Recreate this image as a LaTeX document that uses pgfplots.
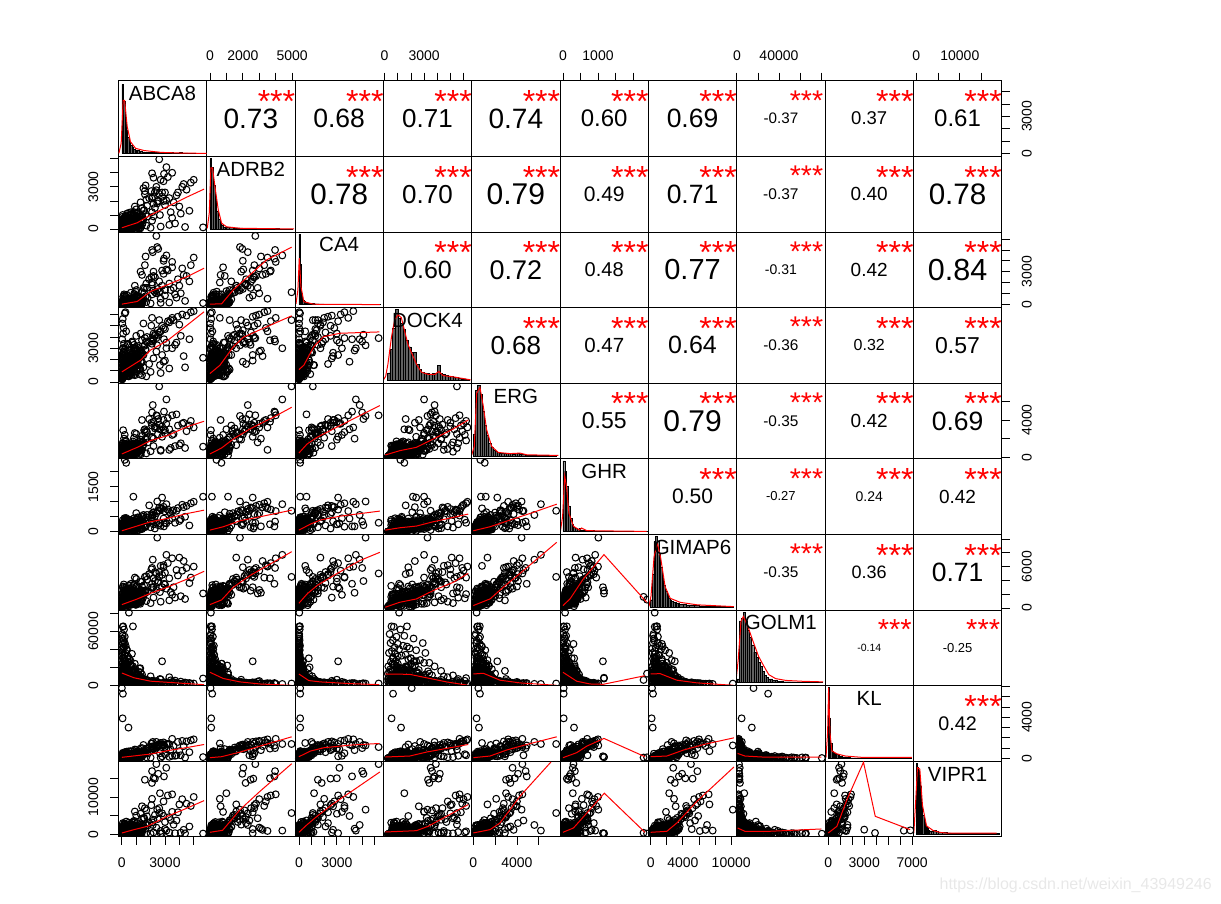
\documentclass[border=0pt]{standalone}
\usepackage{fontspec}
\setmainfont{Liberation Sans}
\usepackage{pgfplots}
\usepackage{pgfplotstable}
\pgfplotsset{compat=1.18}
\pgfdeclareplotmark{hc}{\pgfpathmoveto{\pgfqpoint{3.4pt}{0pt}}\pgfpathcurveto{\pgfqpoint{3.4pt}{4.53pt}}{\pgfqpoint{-3.4pt}{4.53pt}}{\pgfqpoint{-3.4pt}{0pt}}\pgfpathcurveto{\pgfqpoint{-3.4pt}{-4.53pt}}{\pgfqpoint{3.4pt}{-4.53pt}}{\pgfqpoint{3.4pt}{0pt}}\pgfusepathqstroke}
\pgfplotstableread{
A B C D E G I O K V
60 90 30 700 350 30 500 65000 60 200
90 40 40 520 400 20 700 65500 40 150
490 60 30 1100 300 60 500 80800 30 160
770 120 80 1700 600 110 800 65500 70 300
150 120 60 1200 500 60 800 62000 90 300
30 60 20 380 220 15 350 57000 30 120
200 180 30 900 620 40 900 54000 70 240
110 70 50 620 300 25 430 50000 30 80
50 30 15 450 260 10 280 47000 20 60
260 240 80 1400 720 80 1100 44000 120 350
130 90 25 760 410 35 640 42000 60 180
340 200 40 1100 560 70 1300 40000 110 420
70 120 30 550 340 20 520 38000 40 140
40 50 10 330 180 15 240 36000 25 90
180 260 60 1600 800 55 950 34000 130 500
420 150 70 1000 470 90 760 32000 80 260
95 60 20 640 280 30 470 31000 55 110
520 320 90 1800 900 120 1400 29000 170 600
230 130 45 840 450 45 690 27000 70 230
75 170 35 480 310 25 560 26000 50 170
310 380 110 2000 1000 100 1500 24000 190 550
145 85 30 700 380 40 620 23000 65 150
640 430 140 2300 1150 160 1800 22000 210 800
20 25 8 280 130 8 200 21000 15 40
85 210 50 950 520 50 1000 20000 90 350
380 110 35 1250 430 75 840 19000 75 300
160 300 75 1500 760 65 1250 18000 140 480
55 45 15 410 210 18 300 17500 30 70
720 520 180 2600 1280 190 2100 17000 260 1100
270 160 40 1050 490 60 730 16000 85 260
115 75 25 600 270 28 450 15000 45 130
35 110 20 350 240 12 380 14500 35 100
450 350 100 1700 880 110 1500 14000 170 620
205 240 55 900 600 48 1050 13500 110 420
16 15 5 240 90 6 150 13000 10 25
590 410 120 2100 1020 140 1700 12500 200 780
125 65 22 530 250 22 420 12000 40 110
330 190 60 1300 650 80 1150 11500 120 400
80 140 30 780 430 35 720 11000 70 240
960 600 260 3000 1450 230 2400 11000 320 1500
240 280 70 1150 700 52 1200 10500 130 520
45 35 12 420 170 14 260 10000 22 60
550 460 150 1900 1100 150 1900 9800 230 950
170 100 38 680 360 42 580 9500 55 190
100 220 45 860 480 30 880 9200 100 330
390 130 50 1350 540 85 950 9000 95 320
25 20 10 300 120 9 190 8800 12 35
680 380 200 2400 1200 170 2000 8500 240 1000
140 170 35 720 400 38 680 8200 75 260
290 300 85 1450 830 70 1350 8000 150 560
65 55 18 500 200 20 330 7800 30 90
850 540 240 2700 1350 210 2300 7500 290 1350
215 120 42 980 440 58 760 7300 80 280
10 10 4 260 70 4 120 7000 8 20
470 340 130 1600 950 125 1600 6800 190 700
120 190 40 800 510 32 900 6500 100 300
360 260 70 1200 680 90 1200 6200 125 460
55 80 14 440 230 16 360 6000 40 120
760 480 220 2500 1250 180 2150 5800 270 1200
190 90 32 660 330 46 540 5500 50 170
30 30 8 310 110 10 210 5200 15 50
430 230 90 1500 780 100 1300 5000 140 520
90 150 28 590 370 24 600 4800 70 210
600 390 160 2050 1080 135 1750 4500 210 880
150 70 24 740 290 36 500 4200 45 140
260 210 55 1000 620 66 1080 3800 105 380
20 18 6 270 85 7 140 3500 10 30
70 40 12 400 160 12 250 3200 20 55
340 170 60 1150 550 72 980 3000 90 300
100 110 20 570 300 18 470 2600 50 150
520 280 110 1750 860 115 1450 2200 160 640
40 60 9 360 140 11 230 1800 25 70
850 90 60 1500 300 180 600 14000 300 900
1200 400 250 700 900 60 1800 9000 60 1700
300 900 150 2200 350 300 2600 6000 500 300
620 1050 30 900 1400 110 700 22000 120 2200
1000 200 600 1100 1100 420 1500 5000 640 1400
150 700 900 2600 750 250 2900 4000 380 2700
1400 300 50 1800 1600 90 1100 12000 210 500
480 800 400 500 1250 350 3200 7000 90 3100
90 550 700 1300 200 150 400 18000 450 1000
1100 1150 100 2400 650 480 2200 3500 700 600
40 60 20 2200 500 60 400 52000 100 300
200 30 10 2900 300 120 900 47000 60 200
100 150 40 1700 800 30 1500 43000 180 500
350 90 60 2400 1100 200 1800 39000 90 900
60 20 15 1500 150 90 300 55000 40 100
260 200 5 3100 700 150 2300 36000 220 1200
20 100 30 1300 1000 40 1100 33000 150 400
500 40 25 2000 400 250 600 30000 70 700
150 250 80 2700 1300 100 2600 28000 310 1500
80 70 50 1000 600 300 1400 46000 50 300
30 45 12 1900 250 70 200 41000 30 150
420 180 35 3400 900 180 2000 25000 130 800
310 300 120 2100 1200 330 1700 21000 260 1300
700 60 20 800 250 50 500 35000 30 90
120 500 200 1400 700 220 1900 19000 340 400
560 150 300 600 1050 70 1000 8000 110 1900
240 650 60 1800 450 140 2400 11000 420 1100
800 350 500 1200 1500 280 800 4500 170 2400
50 400 90 2300 900 380 3000 5500 520 700
1300 120 20 1000 700 200 1300 6500 90 300
670 750 350 1600 300 60 1700 15000 260 1600
180 280 550 800 1150 450 2100 9000 590 2900
950 500 130 2800 1000 110 600 7500 80 600
410 950 250 1100 1350 320 2700 3200 350 2000
1050 240 75 2000 550 240 900 13000 180 500
90 600 420 3000 800 170 3100 10000 460 1500
760 330 180 1400 1700 90 1200 5000 280 3300
220 870 40 500 600 400 1600 16000 140 800
1450 450 320 2500 1200 350 2500 4000 550 1300
340 180 850 1700 400 130 2200 20000 650 2500
600 1000 70 900 950 260 800 6000 70 400
130 350 480 2100 1300 190 3400 8500 300 1800
900 700 210 600 500 80 1400 24000 210 1100
280 520 110 1300 1450 460 1900 12000 500 2200
1150 90 640 3200 850 150 700 3800 120 900
510 770 30 1900 350 310 2800 17000 390 600
70 240 370 700 1050 210 1000 5800 240 3000
1350 600 160 2300 1550 120 2300 9500 600 1700
190 430 720 1500 650 360 1500 2900 160 2600
840 140 280 2900 1100 290 3300 7000 440 1000
360 1100 90 1000 200 40 600 14000 50 200
1250 320 45 1200 1400 410 1800 3000 320 400
620 220 1050 2600 950 100 2500 10000 700 2800
100 480 190 800 1250 240 1100 6000 90 1300
1000 900 560 1800 750 340 3100 2400 530 2000
450 60 310 2200 450 180 400 26000 140 700
730 830 15 3500 1350 60 2000 4500 270 2500
270 160 680 1000 1050 430 2900 8000 610 1200
1100 380 130 1600 600 280 1300 12500 100 300
50 1000 240 2400 1500 150 2200 3600 380 1600
880 560 900 700 850 50 900 7000 480 3200
390 300 60 3300 1200 390 2700 15500 230 800
1500 700 430 1300 1600 220 1600 5200 660 2300
160 130 780 2000 350 320 700 30000 120 500
640 1200 200 1100 1100 120 3500 2800 420 1400
1200 260 100 2700 700 470 2000 6600 200 900
300 750 350 900 1700 80 2600 18000 310 3400
950 420 1150 1500 500 260 1200 4000 570 600
30 860 80 2100 1000 180 800 9000 80 1900
720 200 520 3600 1300 370 3000 11000 350 2700
1400 950 30 600 800 140 1900 3400 150 1000
220 610 260 1700 1450 50 1400 21000 510 2100
1050 80 700 2500 400 300 2400 8000 260 300
480 1150 150 1200 1200 410 3300 2500 680 1500
650 300 45 1250 750 140 900 16000 70 650
210 80 130 850 220 60 1500 11000 150 1200
1020 620 90 1900 1000 210 1200 8500 320 450
90 420 20 600 560 90 700 6500 30 1700
780 170 220 2200 430 300 2100 4000 240 850
330 720 60 1000 1200 40 400 24000 110 300
1150 230 310 1500 880 170 1650 9500 410 2100
45 130 170 2500 300 110 2000 13000 190 560
560 560 10 700 1050 260 1100 5200 60 1500
250 850 100 1800 640 70 2300 7800 280 250
1280 50 35 1150 480 350 600 19000 130 1050
700 460 270 2000 1350 130 1850 3400 450 1800
140 320 380 1300 170 190 1250 10500 90 700
920 750 55 2400 820 30 500 15000 220 2300
400 40 140 550 1150 280 1950 6200 350 400
1060 530 240 1700 610 220 2200 4600 40 1350
20 660 75 950 1300 150 800 12500 170 2000
610 200 330 2250 370 80 1400 27000 300 120
830 880 25 1450 1100 320 2350 2900 500 950
300 110 190 800 720 50 350 8900 80 1600
1200 410 120 2350 250 240 1000 5600 260 2400
170 780 40 1650 940 120 1750 20000 380 640
490 250 260 1050 1400 340 2050 3700 120 1150
980 20 70 2100 540 180 450 11500 210 280
75 590 350 600 790 20 1300 7200 430 1900
740 340 15 1350 1250 290 2250 16500 50 800
1320 700 160 1850 330 100 950 4300 320 1450
260 160 290 2450 1050 210 1600 9200 140 2200
590 480 85 750 680 330 600 23000 240 550
1100 840 200 1550 1180 60 2150 3100 470 1250
35 70 30 1950 430 160 1150 5900 20 350
870 370 110 900 1320 250 1800 13500 390 2050
440 640 340 2300 200 110 2400 6900 100 1000
1230 140 50 1200 910 300 750 18500 280 1700
120 540 220 1750 1030 40 1450 4900 180 480
680 260 130 650 570 200 2000 10000 440 2350
1010 790 65 2150 1280 130 650 3300 80 750
380 30 250 1400 410 270 1350 8000 230 1550
1300 600 175 2500 730 340 2300 14500 360 200
210 400 95 1050 1120 85 1050 5300 120 1200
770 190 310 1600 280 220 1700 21000 410 2150
55 730 40 2050 860 155 520 7000 60 650
1130 320 205 1250 1220 310 1900 3900 300 1800
520 500 125 800 640 75 1250 12000 200 950
160 90 285 2350 990 240 2200 6000 340 2450
860 680 60 1500 350 125 850 17000 95 1350
120 30 20 4800 900 180 900 9000 100 300
60 80 40 5600 1500 250 1500 7000 250 600
200 40 90 6100 2400 400 1400 5000 400 500
30 20 15 5200 600 140 700 11000 120 250
250 120 30 6200 1800 300 2000 8000 300 800
90 60 10 4300 2900 120 1100 16000 200 350
20 30 25 3800 1100 230 800 21000 80 200
150 200 60 3400 2000 350 1700 13000 220 700
70 20 12 3000 700 90 600 25000 60 150
300 150 100 4500 1300 420 1300 10000 180 450
1300 950 650 2800 1700 380 2600 9000 520 2600
1050 1100 800 3100 1500 300 2900 12000 600 3000
1500 1300 450 2400 1350 500 1900 7000 410 2000
1150 700 350 2000 1050 260 1600 15000 350 1300
850 1200 950 3300 2100 450 3400 6000 700 3600
1800 900 600 3500 1600 410 2400 5500 460 2400
950 620 280 1800 900 200 1300 18000 280 900
1400 1500 1100 3700 2300 520 3800 4800 640 4200
1200 850 520 2600 1250 340 2100 10000 480 1800
1650 1050 720 2900 1900 360 2500 6500 560 2700
1000 1400 1300 4100 2500 620 4200 4200 820 5000
2100 1200 900 3900 2200 480 3500 5000 780 3200
800 1000 420 2300 1400 290 1900 9000 380 1700
1750 1650 1500 4000 2700 560 4100 3500 900 4800
1350 480 300 1700 800 240 1200 8000 240 800
2200 1800 1250 4300 2000 640 3000 3800 1000 3900
1100 300 180 2200 1150 330 1400 7500 300 600
1550 1350 1000 3200 2900 430 3300 4500 720 4400
2500 2000 1400 4600 2450 700 3700 3200 1150 4100
900 1600 1700 3000 2600 350 4400 3600 860 6100
2300 1500 1100 4200 3100 520 3900 2800 1050 5200
1700 2100 1900 3600 2800 480 4600 2600 950 6400
2800 2300 1700 5000 3300 760 4800 2500 1250 5600
3000 1700 1300 4700 2600 680 3400 3000 1120 3300
2600 2500 2100 4400 3500 810 5200 2300 1300 7000
3300 2200 1900 5300 3000 660 4300 2700 1380 4600
3600 1900 1500 5500 2500 720 3000 3600 1200 2600
2050 2700 2500 5000 3700 590 5600 2200 1450 7800
2900 3400 2800 4800 4000 830 6200 2000 1550 8800
3900 2600 2300 5800 3400 790 4700 2100 1600 5900
4200 3000 3300 6000 3600 900 5400 1900 1700 9400
3200 3700 3100 5400 4200 740 6500 1800 1400 10400
4500 2800 2600 5900 2800 860 5800 2400 1650 8200
4800 3300 3600 6200 3900 950 4400 1700 1750 7600
3500 4000 3900 5700 4500 690 7200 1500 1900 10700
5000 3500 4300 6300 3200 1000 6000 2000 1850 10000
2650 1000 1200 1500 3000 280 2300 7000 500 11000
1400 650 2700 2600 4000 350 3100 3800 1000 7500
1650 3100 4400 2800 2000 180 2200 2400 800 1500
2150 2300 4800 3800 5600 560 7000 1600 1600 2500
3100 4400 4500 3000 6200 920 7700 1500 1400 1000
4100 1100 1000 4100 1500 420 1700 4100 300 450
3700 400 900 3300 1200 300 1500 5200 250 300
4400 150 300 1300 1000 500 1300 3100 80 250
3300 300 150 1200 800 380 1100 9000 150 500
2700 180 120 800 700 200 900 6500 60 200
2000 90 70 900 650 150 700 10000 70 150
1700 250 200 500 420 220 1000 6000 110 300
2200 900 2600 2100 1200 650 1500 5000 900 500
3000 2600 800 1900 2900 300 5100 3300 400 1400
1500 2900 1500 5200 1600 560 2100 4100 1300 4300
4700 1300 2100 3800 3400 210 3600 2600 600 2100
2700 3500 500 4500 800 780 6100 2300 1500 900
3500 800 3400 3000 2400 450 1900 3800 250 6000
1900 2200 2300 1600 4100 880 4900 2900 1100 3000
4000 1600 1700 5100 1300 360 7300 2000 700 8000
2400 3000 1000 2700 3200 620 2600 4700 1600 1800
1300 1900 3000 4300 1900 250 3800 6200 950 5500
3800 2400 600 3500 4600 700 5500 2500 300 3700
2100 600 2000 5700 2100 540 2900 3400 1450 9500
4300 3200 2700 2300 3700 820 6800 1800 1200 1200
1600 2700 3600 3900 2700 170 4500 3000 500 7000
3400 1200 1300 5500 1000 600 2300 5500 850 3800
2900 2000 4000 1800 3000 440 5900 2100 1350 4900
2400 2760 6300 3900 4500 300 5000 2000 1100 18800
2100 3960 5000 3600 4800 340 5800 1900 1000 16900
2530 1970 5100 4200 4100 220 3900 2300 1300 16200
3090 2030 3200 3500 3600 280 2800 2700 900 17800
2930 3920 4200 3800 4900 180 3500 2500 1250 15500
2300 2640 2500 4100 3300 110 5200 2100 800 14900
2090 2170 1800 3400 3400 380 3000 2900 1150 13750
1600 2470 1500 3300 3000 150 2500 2400 700 14600
2200 3650 3000 3700 3800 250 4300 2200 950 15000
2460 1825 5270 3260 4430 1010 10200 1900 1260 6600
5650 120 100 2150 1140 1170 2100 7600 120 200
2600 4960 1100 5500 7600 700 4500 2000 1400 5700
200 400 100 1200 650 2400 1200 13000 100 200
300 700 100 1500 1050 2300 1600 6000 80 400
2800 2600 3100 2400 2200 1140 3000 26700 200 300
800 1100 600 3000 700 1170 2500 8400 130 250
0 40 100 2060 460 20 170 15800 6850 1070
70 140 100 640 610 20 290 29700 6300 980
50 80 100 530 300 20 120 4500 3900 360
460 80 100 1250 520 315 250 14200 3000 1250
}\data
\pgfplotsset{
 xA/.style={xmin=-250,xmax=5900},yA/.style={ymin=-250,ymax=5900},
 xB/.style={xmin=-200,xmax=5170},yB/.style={ymin=-200,ymax=5170},
 xC/.style={xmin=-310,xmax=6670},yC/.style={ymin=-310,ymax=6670},
 xD/.style={xmin=-100,xmax=6620},yD/.style={ymin=-100,ymax=6620},
 xE/.style={xmin=-150,xmax=7950},yE/.style={ymin=-150,ymax=7950},
 xG/.style={xmin=-85,xmax=2437},yG/.style={ymin=-85,ymax=2437},
 xI/.style={xmin=-290,xmax=10680},yI/.style={ymin=-290,ymax=10680},
 xO/.style={xmin=-200,xmax=83800},yO/.style={ymin=-200,ymax=83800},
 xK/.style={xmin=-270,xmax=7100},yK/.style={ymin=-270,ymax=7100},
 xV/.style={xmin=-640,xmax=19590},yV/.style={ymin=-640,ymax=19590},
 lowx/.style={xtick pos=lower,xticklabel pos=lower,xticklabel style={yshift=-18pt}},
 topx/.style={xtick pos=upper,xticklabel pos=upper,xticklabel style={yshift=17pt}},
 lefty/.style={ytick pos=lower,yticklabel pos=lower,yticklabel style={xshift=-17pt,rotate=90}},
 righty/.style={ytick pos=upper,yticklabel pos=upper,yticklabel style={xshift=17pt,rotate=90}},
 cell/.style={scale only axis,width=88.34pt,height=75.6pt,anchor=north west,
  axis line style={line width=.8pt},tick style={black,line width=.8pt},
  tick align=outside,major tick length=8pt,scaled ticks=false,
  xtick=\empty,ytick=\empty,clip marker paths=true,
  tick label style={font=\fontsize{14}{14}\selectfont},
  xticklabel style={inner sep=0pt,anchor=center},
  yticklabel style={inner sep=0pt,anchor=center}},
 bA/.style={lowx,xtick={0,1000,...,5000},xticklabels={0,,,3000,,}},
 bC/.style={lowx,xtick={0,1000,...,6000},xticklabels={0,,,3000,,,}},
 bE/.style={lowx,xtick={0,2000,4000,6000},xticklabels={0,,4000,}},
 bI/.style={lowx,xtick={0,2000,...,10000},xticklabels={0,,4000,,,10000}},
 bK/.style={lowx,xtick={0,1000,...,7000},xticklabels={0,,,3000,,,,7000}},
 tB/.style={topx,xtick={0,1000,...,5000},xticklabels={0,,2000,,,5000}},
 tD/.style={topx,xtick={0,1000,...,6000},xticklabels={0,,,3000,,,}},
 tG/.style={topx,xtick={0,500,...,2000},xticklabels={0,,1000,,}},
 tO/.style={topx,xtick={0,20000,...,80000},xticklabels={0,,40000,,}},
 tV/.style={topx,xtick={0,5000,10000,15000},xticklabels={0,,10000,}},
 lB/.style={lefty,ytick={0,1000,...,5000},yticklabels={0,,,3000,,}},
 lD/.style={lefty,ytick={0,1000,...,6000},yticklabels={0,,,3000,,,}},
 lG/.style={lefty,ytick={0,500,...,2000},yticklabels={0,,,1500,}},
 lO/.style={lefty,ytick={0,20000,...,80000},yticklabels={0,,,60000,}},
 lV/.style={lefty,ytick={0,5000,10000,15000},yticklabels={0,,10000,}},
 rA/.style={righty,ytick={0,1000,...,5000},yticklabels={0,,,3000,,}},
 rC/.style={righty,ytick={0,1000,...,6000},yticklabels={0,,,3000,,,}},
 rE/.style={righty,ytick={0,2000,4000,6000},yticklabels={0,,4000,}},
 rI/.style={righty,ytick={0,2000,...,10000},yticklabels={0,,,6000,,}},
 rK/.style={righty,ytick={0,1000,...,7000},yticklabels={0,,,,4000,,,}},
}
\newcommand\setpos[2]{\pgfmathsetmacro\px{118.3+(#1-1)*88.34}\pgfmathsetmacro\py{-80.7-(#2-1)*75.6}}
\newcommand\panel[6]{\setpos{#1}{#2}
\begin{axis}[cell,at={(\px pt,\py pt)},x#3,y#4,#5]
\addplot[only marks,mark=hc,mark options={line width=1.05pt,black}] table[x=#3,y=#4]{\data};
\addplot[red,line width=1pt] coordinates {#6};
\end{axis}}
\newcommand\diag[5]{\setpos{#1}{#1}
\begin{axis}[cell,at={(\px pt,\py pt)},x#2,ymin=-0.04,ymax=1]
\addplot[ybar interval,fill=black!62,draw=black,line width=.45pt] coordinates {#4};
\addplot[red,line width=1pt] coordinates {#5};
\node[font=\fontsize{20.5}{20.5}\selectfont,inner sep=0pt] at (rel axis cs:0.5,0.83) {#3};
\end{axis}}
\newcommand\cor[5]{\setpos{#1}{#2}
\pgfmathsetmacro\sb{10+.68*#5}
\draw[line width=.8pt] (\px pt,\py pt) rectangle ++(88.34pt,-75.6pt);
\node[inner sep=0pt,font=\fontsize{#4}{#4}\selectfont] at ([shift={(44.2pt,-37.8pt)}]\px pt,\py pt) {#3};
\node[inner sep=0pt,anchor=base,red,font=\fontsize{#5}{#5}\selectfont] at ([shift={(69.8pt,-\sb pt)}]\px pt,\py pt) {***};}
\begin{document}
\begin{tikzpicture}
\path[use as bounding box] (0,0) rectangle (1221pt,-903pt);
\cor{2}{1}{0.73}{28}{32}\cor{3}{1}{0.68}{26.5}{32}\cor{4}{1}{0.71}{26}{32}\cor{5}{1}{0.74}{28}{32}\cor{6}{1}{0.60}{24}{32}\cor{7}{1}{0.69}{26.5}{32}\cor{8}{1}{-0.37}{15.2}{28.5}\cor{9}{1}{0.37}{18.5}{32}\cor{10}{1}{0.61}{24}{32}
\cor{3}{2}{0.78}{29.6}{32}\cor{4}{2}{0.70}{26}{32}\cor{5}{2}{0.79}{30}{32}\cor{6}{2}{0.49}{21}{32}\cor{7}{2}{0.71}{26.5}{32}\cor{8}{2}{-0.37}{15.5}{28.5}\cor{9}{2}{0.40}{19}{32}\cor{10}{2}{0.78}{29.6}{32}
\cor{4}{3}{0.60}{25}{32}\cor{5}{3}{0.72}{27}{32}\cor{6}{3}{0.48}{20}{32}\cor{7}{3}{0.77}{29}{32}\cor{8}{3}{-0.31}{14}{28.5}\cor{9}{3}{0.42}{19}{32}\cor{10}{3}{0.84}{30.5}{32}
\cor{5}{4}{0.68}{26}{32}\cor{6}{4}{0.47}{20.5}{32}\cor{7}{4}{0.64}{25}{32}\cor{8}{4}{-0.36}{15.4}{28.5}\cor{9}{4}{0.32}{16}{32}\cor{10}{4}{0.57}{23}{32}
\cor{6}{5}{0.55}{23}{32}\cor{7}{5}{0.79}{30}{32}\cor{8}{5}{-0.35}{15.4}{28.5}\cor{9}{5}{0.42}{19}{32}\cor{10}{5}{0.69}{26.5}{32}
\cor{7}{6}{0.50}{21}{32}\cor{8}{6}{-0.27}{13}{28.5}\cor{9}{6}{0.24}{14}{32}\cor{10}{6}{0.42}{19}{32}
\cor{8}{7}{-0.35}{15.4}{28.5}\cor{9}{7}{0.36}{18}{32}\cor{10}{7}{0.71}{26.5}{32}
\cor{9}{8}{-0.14}{10.5}{29}\cor{10}{8}{-0.25}{13}{29}
\cor{10}{9}{0.42}{19.7}{32}
\begin{axis}[cell,at={(206.64pt,-80.7pt)},xB,yA,tB]\end{axis}
\begin{axis}[cell,at={(383.32pt,-80.7pt)},xD,yA,tD]\end{axis}
\begin{axis}[cell,at={(560pt,-80.7pt)},xG,yA,tG]\end{axis}
\begin{axis}[cell,at={(736.68pt,-80.7pt)},xO,yA,tO]\end{axis}
\begin{axis}[cell,at={(913.36pt,-80.7pt)},xV,yA,tV,rA]\end{axis}
\begin{axis}[cell,at={(913.36pt,-231.9pt)},xV,yC,rC]\end{axis}
\begin{axis}[cell,at={(913.36pt,-383.1pt)},xV,yE,rE]\end{axis}
\begin{axis}[cell,at={(913.36pt,-534.3pt)},xV,yI,rI]\end{axis}
\begin{axis}[cell,at={(913.36pt,-685.5pt)},xV,yK,rK]\end{axis}
\diag{1}{A}{ABCA8}{(0,.95)(100,.72)(200,.48)(300,.32)(400,.22)(500,.15)(600,.11)(700,.08)(800,.06)(900,.05)(1000,.05)(1100,.04)(1200,.03)(1300,.03)(1400,.02)(1500,.02)(1600,.015)(1700,.015)(1800,.01)(1900,.01)(2000,.015)(2200,.015)(2400,.02)(2600,.012)(2800,.01)(3000,.01)(3200,.006)(3400,.01)(3600,.006)(3800,.006)(4000,.01)(4200,.006)(4400,.006)(4600,.003)(4800,.003)(5000,.003)(5600,.003)(5700,0)}{(-210,0)(-50,.14)(90,.73)(190,.73)(370,.37)(600,.16)(950,.07)(1530,.04)(2700,.014)(4090,.005)(5900,0)}
\diag{2}{B}{ADRB2}{(0,.97)(100,.85)(200,.6)(300,.42)(400,.25)(500,.14)(600,.08)(700,.05)(800,.03)(900,.02)(1000,.02)(1200,.02)(1400,.015)(1600,.015)(1800,.015)(2000,.012)(2200,.012)(2400,.01)(2600,.012)(2800,.01)(3000,.006)(3200,.006)(3400,.006)(3600,.006)(3800,.004)(4000,.004)(4200,.003)(4500,.003)(4960,.003)(5000,0)}{(-160,.01)(-40,.22)(60,.84)(160,.84)(300,.59)(510,.26)(710,.08)(1010,.03)(1830,.01)(5110,0)}
\diag{3}{C}{CA4}{(0,.97)(100,.55)(200,.15)(300,.06)(400,.04)(500,.03)(600,.025)(700,.02)(800,.02)(1000,.015)(1200,.012)(1400,.012)(1600,.01)(1800,.01)(2000,.008)(2400,.008)(2800,.006)(3200,.006)(3600,.004)(4000,.004)(4400,.003)(5000,.003)(6400,0)}{(-230,.01)(-80,.2)(30,.64)(160,.25)(390,.04)(1170,.005)(6400,0)}
\diag{4}{D}{DOCK4}{(200,.1)(400,.42)(600,.72)(800,.97)(1000,.85)(1200,.78)(1400,.7)(1600,.55)(1800,.46)(2000,.38)(2200,.38)(2400,.22)(2600,.15)(2800,.11)(3000,.1)(3200,.09)(3400,.08)(3600,.09)(3800,.09)(4000,.2)(4200,.09)(4400,.08)(4600,.07)(4800,.06)(5000,.05)(5200,.04)(5400,.04)(5600,.03)(5800,.02)(6000,.02)(6200,.01)(6400,0)}{(-100,0)(80,.055)(250,.22)(510,.58)(760,.83)(1020,.9)(1270,.86)(1530,.67)(1780,.49)(2160,.33)(2420,.22)(2800,.11)(3310,.08)(3820,.08)(4120,.12)(4450,.064)(5220,.046)(6540,.005)}
\diag{5}{E}{ERG}{(0,.3)(200,.9)(400,.97)(600,.85)(800,.62)(1000,.42)(1200,.28)(1400,.17)(1600,.12)(1800,.08)(2000,.06)(2200,.05)(2400,.04)(2600,.03)(2800,.03)(3000,.03)(3200,.03)(3400,.03)(3600,.02)(3800,.03)(4000,.03)(4200,.02)(4400,.015)(4800,.01)(5200,.01)(5600,.006)(6000,.006)(6400,.004)(7000,.004)(7600,0)}{(-150,.01)(90,.13)(310,.86)(610,.94)(920,.68)(1220,.36)(1680,.13)(2290,.046)(3360,.03)(4280,.037)(4890,.014)(7800,.005)}
\diag{6}{G}{GHR}{(0,.97)(50,.83)(100,.62)(150,.35)(200,.18)(250,.1)(300,.06)(350,.04)(400,.03)(450,.04)(500,.02)(550,.02)(600,.015)(700,.012)(800,.01)(900,.008)(1000,.008)(1100,.008)(1200,.004)(2300,.004)(2400,0)}{(-70,.01)(-10,.21)(50,.76)(100,.62)(170,.25)(300,.07)(470,.02)(530,.046)(680,.01)(2390,0)}
\diag{7}{I}{GIMAP6}{(0,.1)(200,.45)(400,.9)(600,.97)(800,.9)(1000,.72)(1200,.55)(1400,.42)(1600,.3)(1800,.22)(2000,.18)(2200,.12)(2400,.1)(2600,.08)(2800,.07)(3000,.06)(3200,.05)(3400,.05)(3600,.04)(4000,.04)(4400,.03)(4800,.025)(5400,.02)(6000,.015)(7000,.01)(8000,.008)(9000,.004)(10300,0)}{(-210,.01)(40,.15)(420,.69)(830,.88)(1250,.67)(1790,.28)(2420,.12)(3670,.064)(5750,.03)(10330,.005)}
\diag{8}{O}{GOLM1}{(0,.05)(2000,.85)(4000,.88)(6000,.97)(8000,.85)(10000,.72)(12000,.62)(14000,.52)(16000,.42)(18000,.35)(20000,.28)(22000,.22)(24000,.15)(26000,.1)(28000,.07)(30000,.05)(32000,.05)(34000,.03)(36000,.03)(38000,.02)(40000,.02)(44000,.012)(48000,.012)(52000,.01)(56000,.008)(60000,.008)(66000,.004)(80000,.003)(81000,0)}{(-970,.005)(1290,.32)(3870,.84)(6130,.91)(10970,.75)(15800,.55)(20650,.36)(25500,.23)(30300,.11)(36800,.055)(46500,.03)(62600,.018)(81900,.01)}
\diag{9}{K}{KL}{(0,.97)(100,.55)(200,.2)(300,.1)(400,.08)(500,.07)(600,.05)(700,.05)(800,.04)(900,.03)(1000,.03)(1100,.03)(1200,.02)(1300,.02)(1400,.015)(1600,.01)(1800,.006)(2000,.004)(3000,.004)(4000,.004)(6300,.004)(6900,0)}{(-190,.01)(-55,.35)(30,.97)(140,.35)(300,.1)(720,.06)(1420,.03)(2940,.01)(6970,.01)}
\diag{10}{V}{VIPR1}{(0,.97)(250,.92)(500,.88)(750,.8)(1000,.65)(1250,.4)(1500,.25)(1750,.17)(2000,.12)(2250,.1)(2500,.07)(2750,.05)(3000,.04)(3500,.04)(4000,.05)(4500,.03)(5000,.02)(6000,.015)(7000,.012)(8000,.01)(9000,.008)(10000,.008)(11000,.006)(14000,.006)(16000,.006)(18000,.006)(19000,0)}{(-530,.01)(-80,.48)(300,.91)(840,.89)(1450,.39)(2370,.11)(3890,.045)(5420,.02)(6950,.01)(18400,.01)}
\panel{1}{2}{A}{B}{lB}{(0,95)(1070,450)(2000,1000)(3160,1590)(4560,2290)(5720,2840)}
\panel{1}{3}{A}{C}{}{(0,0)(1070,246)(2000,1170)(3160,1785)(4560,2550)(5720,3320)}
\panel{1}{4}{A}{D}{lD}{(0,900)(1300,1940)(2000,2840)(3160,3670)(4560,5070)(5720,6240)}
\panel{1}{5}{A}{E}{}{(0,360)(1070,1070)(2000,1790)(3160,2320)(4560,3290)(5720,3860)}
\panel{1}{6}{A}{G}{lG}{(0,33)(2000,333)(3160,444)(4560,610)(5720,720)}
\panel{1}{7}{A}{I}{}{(0,480)(1070,1300)(2000,2130)(3160,3000)(4560,4200)(5720,5310)}
\panel{1}{8}{A}{O}{lO}{(0,13700)(840,8400)(2000,4600)(3160,3400)(4560,1900)(5720,760)}
\panel{1}{9}{A}{K}{}{(0,100)(2000,420)(3160,740)(4560,1060)(5720,1350)}
\panel{1}{10}{A}{V}{bA,lV}{(0,360)(840,1250)(1770,2140)(3160,4820)(4560,7050)(5720,9020)}
\panel{2}{3}{B}{C}{}{(0,0)(710,30)(1420,1320)(2430,2700)(3450,4090)(4970,5260)}
\panel{2}{4}{B}{D}{}{(0,750)(610,1490)(1420,3130)(2030,3970)(3250,4780)(4970,5880)}
\panel{2}{5}{B}{E}{}{(0,360)(710,1000)(1420,1960)(2430,3040)(3850,4290)(4970,5360)}
\panel{2}{6}{B}{G}{}{(0,55)(810,167)(1830,367)(3040,500)(4970,720)}
\panel{2}{7}{B}{I}{}{(0,480)(710,1160)(1420,3000)(2430,4690)(3850,6620)(4970,8160)}
\panel{2}{8}{B}{O}{}{(0,14500)(810,7600)(1830,3800)(3040,1500)(4970,0)}
\panel{2}{9}{B}{K}{}{(0,65)(710,160)(1830,610)(3040,1190)(4970,2100)}
\panel{2}{10}{B}{V}{}{(0,540)(770,1070)(1830,6600)(3040,11500)(4970,18900)}
\panel{3}{4}{C}{D}{}{(0,1100)(390,1490)(1170,3130)(1950,4030)(3250,4330)(6360,4450)}
\panel{3}{5}{C}{E}{}{(0,460)(650,1430)(1430,2140)(2730,3040)(4550,4290)(6400,5540)}
\panel{3}{6}{C}{G}{}{(0,55)(910,255)(1690,390)(3250,520)(6400,690)}
\panel{3}{7}{C}{I}{}{(0,680)(650,2030)(1430,3240)(2730,4690)(4800,6860)(6400,8070)}
\panel{3}{8}{C}{O}{}{(0,12600)(780,5300)(1690,3800)(4030,1900)(6360,760)}
\panel{3}{9}{C}{K}{}{(0,160)(910,710)(1950,1030)(4030,1290)(6360,1450)}
\panel{3}{10}{C}{V}{bC}{(0,540)(650,2590)(1430,4820)(2730,8210)(4550,12400)(6400,16700)}
\panel{4}{5}{D}{E}{}{(50,250)(1150,710)(2420,1070)(3690,1960)(5220,3040)(6360,4000)}
\panel{4}{6}{D}{G}{}{(50,55)(1150,133)(2420,190)(3690,333)(5220,480)(6360,590)}
\panel{4}{7}{D}{I}{}{(50,100)(1150,820)(2420,1300)(3690,2510)(5220,3720)(6360,5020)}
\panel{4}{8}{D}{O}{}{(50,12600)(1910,12200)(3180,8400)(4710,3800)(6360,0)}
\panel{4}{9}{D}{K}{}{(50,130)(1910,225)(3180,610)(4710,970)(6360,1350)}
\panel{4}{10}{D}{V}{}{(50,620)(2420,980)(3310,2140)(4710,4820)(6360,7950)}
\panel{5}{6}{E}{G}{}{(0,33)(1530,167)(3360,390)(5200,610)(7650,920)}
\panel{5}{7}{E}{I}{}{(0,340)(1530,1300)(2750,3000)(4590,5410)(7650,9520)}
\panel{5}{8}{E}{O}{}{(0,12600)(920,13400)(2450,5700)(4280,2700)(7650,0)}
\panel{5}{9}{E}{K}{}{(0,65)(1530,225)(3060,810)(4890,1350)(7650,2100)}
\panel{5}{10}{E}{V}{bE}{(0,360)(1530,1250)(2450,3040)(4280,10180)(7130,19380)}
\panel{6}{7}{G}{I}{}{(0,340)(200,1300)(580,4200)(1170,7730)(2390,820)}
\panel{6}{8}{G}{O}{}{(0,14500)(390,4600)(770,1500)(1150,1140)(2340,10700)}
\panel{6}{9}{G}{K}{}{(0,65)(390,550)(680,1190)(1170,1940)(2340,160)}
\panel{6}{10}{G}{V}{}{(0,540)(300,1700)(680,5700)(1180,11000)(2340,540)}
\panel{7}{8}{I}{O}{}{(0,12600)(1170,13000)(3250,5700)(5750,2700)(10330,0)}
\panel{7}{9}{I}{K}{}{(0,160)(2000,225)(4080,810)(6580,1350)(10330,2000)}
\panel{7}{10}{I}{V}{bI}{(0,540)(2000,800)(3250,3040)(5750,8840)(10330,18000)}
\panel{8}{9}{O}{K}{}{(650,480)(7700,225)(23900,130)(80300,130)}
\panel{8}{10}{O}{V}{}{(650,1700)(7700,800)(30300,800)(80300,1430)}
\panel{9}{10}{K}{V}{bK}{(0,360)(720,2140)(1560,9290)(2940,19300)(3920,4820)(6830,1250)}
\node[anchor=east,inner sep=0pt,text=black!9,font=\fontsize{16}{16}\selectfont] at (1212pt,-885pt) {https://blog.csdn.net/weixin\_43949246};
\end{tikzpicture}
\end{document}
